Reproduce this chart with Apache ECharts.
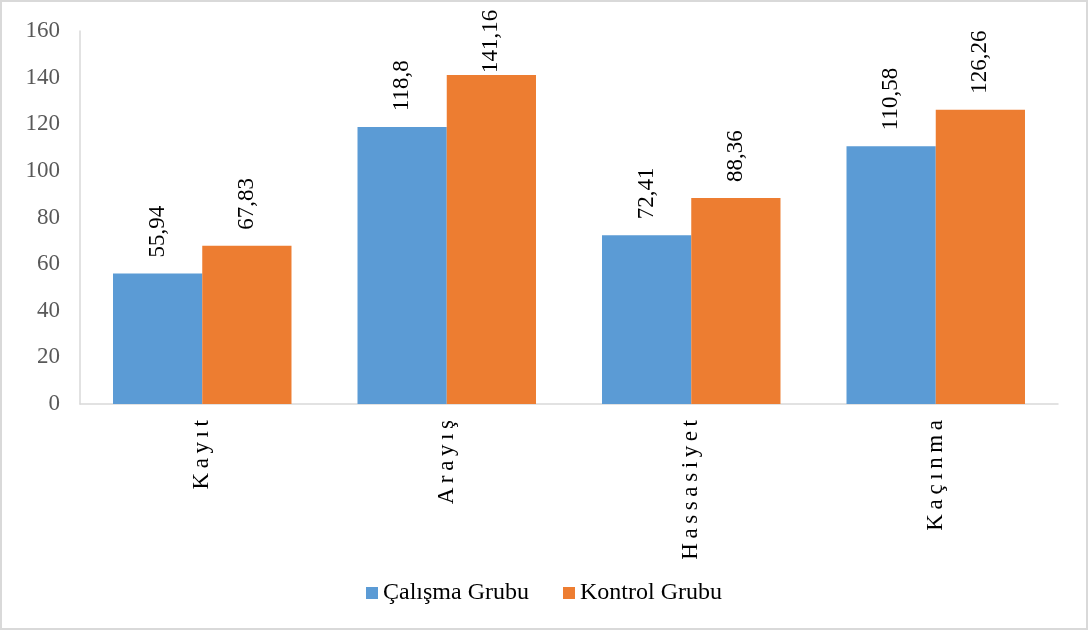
<!DOCTYPE html>
<html>
<head>
<meta charset="utf-8">
<script src="https://cdn.jsdelivr.net/npm/echarts@6/dist/echarts.min.js"></script>
<style>
  html, body { margin: 0; padding: 0; background: #fff; }
  #chart { width: 1084px; height: 626px; border: 2px solid #d9d9d9; }
</style>
</head>
<body>
<div id="chart"></div>
<script>
var categories = ['Kayıt', 'Arayış', 'Hassasiyet', 'Kaçınma']
var calismaGrubu = [55.94, 118.8, 72.41, 110.58]
var kontrolGrubu = [67.83, 141.16, 88.36, 126.26]
var seriesNames = ['Çalışma Grubu', 'Kontrol Grubu']

var font = '"Liberation Serif", "Times New Roman", serif'

var myChart = echarts.init(document.getElementById('chart'))

function valueLabel() {
  return {
    show: true,
    position: 'top',
    rotate: 90,
    align: 'left',
    verticalAlign: 'middle',
    distance: 16,
    color: '#000',
    fontFamily: font,
    fontSize: 23,
    formatter: function (p) {
      return String(p.value).replace('.', ',')
    }
  }
}

// labels near the top get pushed down so they stay inside the chart
function withLabels(arr) {
  return arr.map(function (v) {
    if (v > 135) return { value: v, label: { distance: 2 } }
    return v
  })
}

var option = {
  animation: false,
  textStyle: { fontFamily: font },
  grid: {
    left: 78,
    right: 28,
    top: 29,
    bottom: 224
  },
  legend: {
    bottom: 18,
    left: 'center',
    itemWidth: 12,
    itemHeight: 12,
    itemGap: 34,
    icon: 'rect',
    textStyle: { fontFamily: font, fontSize: 24, color: '#000' },
    data: seriesNames
  },
  xAxis: {
    type: 'category',
    data: categories,
    axisLine: { lineStyle: { color: '#d9d9d9', width: 1.5 } },
    axisTick: { show: false },
    axisLabel: {
      rotate: 90,
      margin: 16,
      color: '#000',
      fontFamily: font,
      fontSize: 23,
      formatter: function (v) {
        // the original labels are letter-spaced
        return v.split('').join('\u2009')
      }
    }
  },
  yAxis: {
    type: 'value',
    min: 0,
    max: 160,
    interval: 20,
    axisLine: { show: true, lineStyle: { color: '#d9d9d9', width: 1.5 } },
    axisTick: { show: false },
    splitLine: { show: false },
    axisLabel: {
      margin: 20,
      color: '#595959',
      fontFamily: font,
      fontSize: 23
    }
  },
  series: [{
    name: seriesNames[0],
    type: 'bar',
    data: withLabels(calismaGrubu),
    barGap: '0%',
    barCategoryGap: '27%',
    itemStyle: { color: '#5B9BD5' },
    label: valueLabel()
  }, {
    name: seriesNames[1],
    type: 'bar',
    data: withLabels(kontrolGrubu),
    itemStyle: { color: '#ED7D31' },
    label: valueLabel()
  }]
}
myChart.setOption(option)
</script>
</body>
</html>
